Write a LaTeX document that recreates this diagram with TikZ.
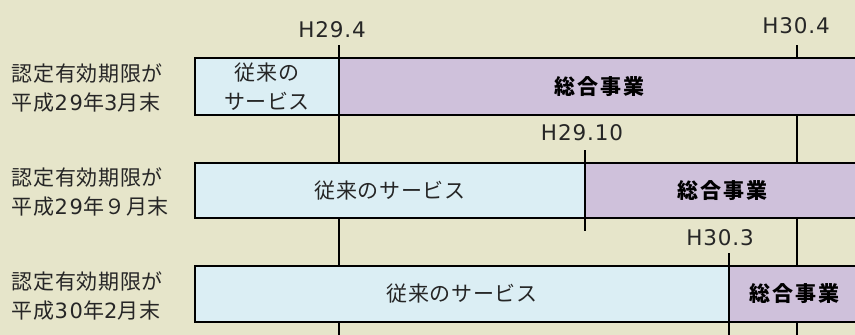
\documentclass[tikz,border=0pt]{standalone}
\usepackage{fontspec}
\setmainfont{Noto Sans CJK JP}[LetterSpace=3]
\newfontfamily\sogofont{Noto Sans CJK JP}[LetterSpace=8]
\newfontfamily\datefont{DejaVu Sans}[LetterSpace=4]
\newfontfamily\digfont{DejaVu Sans}[LetterSpace=8]
\newcommand{\dg}[1]{{\digfont #1}}
\definecolor{bgc}{HTML}{E6E5CA}
\definecolor{svcblue}{HTML}{DBEEF4}
\definecolor{sogolilac}{HTML}{CFC1DB}
\begin{document}
\begin{tikzpicture}[x=1pt,y=-1pt,
  every node/.style={inner sep=0pt, outer sep=0pt, font=\fontsize{21}{29}\selectfont},
  svcbox/.style={draw=black, line width=2pt, fill=svcblue, anchor=north west, align=center, text=black!85},
  sogobox/.style={draw=black, line width=2pt, fill=sogolilac, anchor=north west, align=center, font=\fontsize{21}{29}\selectfont\sogofont\bfseries},
  rowlabel/.style={anchor=west, align=left, text=black!85},
  datelabel/.style={text=black!85, font=\fontsize{21.5}{24}\selectfont\datefont},
  timeline/.style={draw=black, line width=2pt}]
\useasboundingbox (0,0) rectangle (855,335);
\fill[bgc] (0,0) rectangle (855,335);
\clip (0,0) rectangle (855,335);

% time lines
\coordinate (a1) at (339,45);  \coordinate (a2) at (339,340);
\coordinate (b1) at (797,45);  \coordinate (b2) at (797,340);
\coordinate (c1) at (585,150); \coordinate (c2) at (585,231);
\coordinate (d1) at (729,253); \coordinate (d2) at (729,340);
\draw[timeline] (a1) -- (a2);
\draw[timeline] (b1) -- (b2);
\draw[timeline] (c1) -- (c2);
\draw[timeline] (d1) -- (d2);

% date labels
\node[datelabel] (l1) at (332,30) {H29.4};
\node[datelabel] (l2) at (796,26) {H30.4};
\node[datelabel] (l3) at (582,133) {H29.10};
\node[datelabel] (l4) at (720,238) {H30.3};

% row 1
\node[svcbox, minimum width=144pt, minimum height=57pt] (r1a) at (195,58) {従来の\\サービス};
\node[sogobox, minimum width=521pt, minimum height=57pt] (r1b) at (339,58) {総合事業};
% row 2
\node[svcbox, minimum width=390pt, minimum height=55pt] (r2a) at (195,163) {従来のサービス};
\node[sogobox, minimum width=275pt, minimum height=55pt] (r2b) at (585,163) {総合事業};
% row 3
\node[svcbox, minimum width=534pt, minimum height=56pt] (r3a) at (195,266) {従来のサービス};
\node[sogobox, minimum width=131pt, minimum height=56pt] (r3b) at (729,266) {総合事業};

% row labels
\node[rowlabel] (t1) at (12,88) {認定有効期限が\\平成\dg{29}年\dg{3}月末};
\node[rowlabel] (t2) at (12,192) {認定有効期限が\\平成\dg{29}年９月末};
\node[rowlabel] (t3) at (12,296) {認定有効期限が\\平成\dg{30}年\dg{2}月末};
\end{tikzpicture}
\end{document}
